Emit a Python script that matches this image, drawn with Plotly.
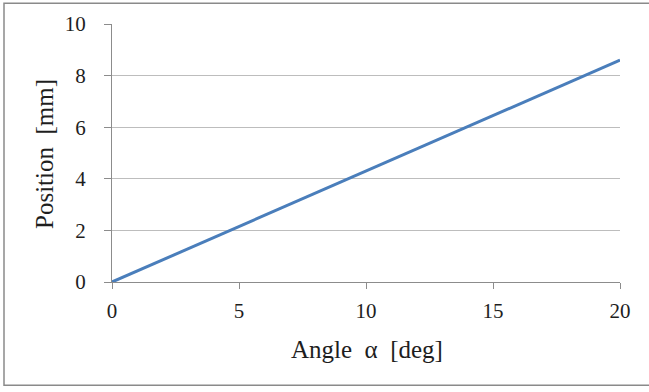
import plotly.graph_objects as go

angle_deg = [0, 5, 10, 15, 20]
position_mm = [0, 2.15, 4.3, 6.45, 8.6]
x_ticks = [0, 5, 10, 15, 20]
y_ticks = [0, 2, 4, 6, 8, 10]

FONT = "Liberation Serif, Times New Roman, serif"

fig = go.Figure()
fig.add_trace(go.Scatter(x=angle_deg, y=position_mm, mode="lines",
                         line=dict(color="#4a7ebb", width=3), showlegend=False))

L, R, T, B = 112, 29, 22, 110
W, H = 649, 392
pw = W - L - R
ph = H - T - B

def px_x(px):
    return (px - L) / pw

def px_y(py):
    return (H - B - py) / ph

tickfont = dict(family=FONT, size=21, color="#1e1e1e")

fig.update_layout(
    width=W, height=H,
    margin=dict(l=L, r=R, t=T, b=B),
    paper_bgcolor="white", plot_bgcolor="white",
    font=dict(family=FONT, size=21, color="#1e1e1e"),
    xaxis=dict(range=[0, 20], tickvals=x_ticks, showgrid=False, zeroline=False,
               showline=True, linecolor="#8c8c8c", linewidth=1,
               ticks="outside", ticklen=6, tickcolor="#8c8c8c",
               ticklabelstandoff=4, tickfont=tickfont, fixedrange=True),
    yaxis=dict(range=[0, 10], tickvals=y_ticks, showgrid=True, gridcolor="#bdbdbd",
               gridwidth=1, zeroline=False, showline=True, linecolor="#8c8c8c",
               linewidth=1, ticks="outside", ticklen=7, tickcolor="#8c8c8c",
               ticklabelstandoff=14, tickfont=tickfont, fixedrange=True),
    annotations=[
        dict(text="Angle  α  [deg]", xref="paper", yref="paper",
             x=px_x(366.5), y=px_y(350), xanchor="center", yanchor="middle",
             showarrow=False, font=dict(family=FONT, size=25, color="#1e1e1e")),
        dict(text="Position  [mm]", xref="paper", yref="paper",
             x=px_x(45), y=px_y(153), xanchor="center", yanchor="middle",
             textangle=-90, showarrow=False,
             font=dict(family=FONT, size=25, color="#1e1e1e")),
    ],
    shapes=[
        dict(type="rect", xref="paper", yref="paper",
             x0=px_x(4), x1=px_x(660), y0=px_y(386), y1=px_y(1),
             line=dict(color="#8a8a8a", width=1.5), layer="below"),
    ],
)

fig.write_html("out.html", config={"displayModeBar": False},
               post_script="document.body.style.margin='0';document.body.style.overflow='hidden';")
